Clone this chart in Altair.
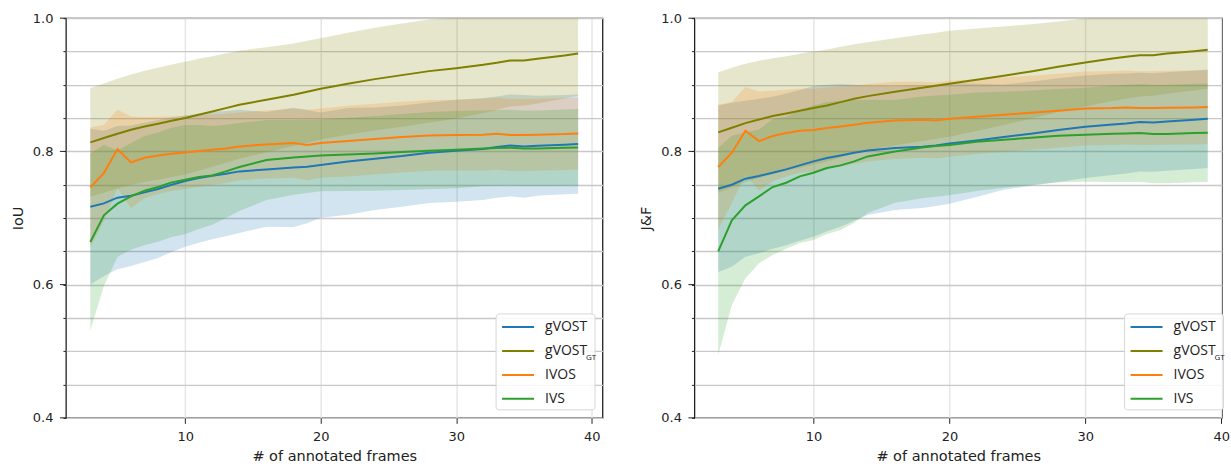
import altair as alt
import pandas as pd

frames = [3, 4, 5, 6, 7, 8, 9, 10, 11, 12, 13, 14, 16, 18, 19, 20, 22, 24, 26, 28, 30, 32, 33, 34, 35, 36, 38, 39]
methods = ["gVOST", "gVOST_GT", "IVOS", "IVS"]
colors = ["#1f77b4", "#808000", "#ff7f0e", "#2ca02c"]

# IoU panel
iou_gvost_mean = [.717, .722, .7305, .7335, .7385, .7435, .75, .7555, .76, .7635, .7665, .77, .773, .776, .777, .7795, .785, .789, .793, .798, .801, .8035, .8065, .809, .8075, .8085, .81, .811]
iou_gvost_std = [.117, .109, .1075, .1055, .1045, .1035, .101, .0985, .097, .0955, .094, .0925, .086, .0895, .085, .079, .08, .077, .076, .0755, .0765, .0765, .076, .0765, .077, .075, .0745, .0745]
iou_gt_mean = [.8135, .82, .8265, .8325, .8375, .8415, .846, .85, .855, .86, .865, .87, .8775, .885, .8895, .894, .9015, .9085, .9145, .9205, .925, .93, .933, .9365, .9365, .939, .944, .947]
iou_gt_std = [.0815, .082, .0825, .083, .0835, .084, .0845, .0845, .084, .083, .082, .081, .079, .077, .0765, .076, .0765, .077, .0775, .0775, .076, .0725, .071, .069, .068, .067, .0645, .0635]
iou_ivos_mean = [.746, .7675, .8035, .7835, .7905, .794, .7965, .7985, .8005, .8025, .8045, .8075, .8105, .8125, .8095, .8125, .8155, .8185, .8215, .824, .8245, .825, .8265, .8245, .8245, .825, .826, .827]
iou_ivos_std = [.09, .0725, .059, .069, .061, .058, .056, .055, .054, .053, .052, .051, .051, .052, .053, .052, .053, .053, .053, .053, .053, .054, .054, .054, .054, .054, .054, .054]
iou_ivs_mean = [.664, .704, .7215, .7325, .741, .7465, .7535, .7575, .7615, .764, .77, .7765, .787, .791, .7925, .794, .7955, .797, .799, .801, .8025, .8045, .805, .8055, .8045, .8045, .8055, .806]
iou_ivs_std = [.133, .106, .08, .08, .082, .082, .082, .082, .078, .074, .07, .066, .06, .056, .055, .054, .055, .056, .057, .058, .058, .057, .057, .057, .057, .057, .0575, .0575]

# J&F panel
jf_gvost_mean = [.744, .75, .759, .763, .768, .773, .779, .785, .79, .794, .798, .8015, .805, .807, .809, .812, .8165, .8215, .8265, .832, .837, .8405, .842, .844, .8435, .845, .8475, .849]
jf_gvost_std = [.125, .123, .117, .116, .114, .114, .113, .113, .11, .107, .102, .097, .093, .092, .091, .0905, .085, .079, .078, .078, .077, .076, .075, .074, .074, .074, .074, .074]
jf_gt_mean = [.8285, .8355, .8425, .848, .853, .857, .861, .865, .869, .874, .879, .883, .8895, .8955, .8985, .9015, .9075, .9135, .92, .927, .9335, .9395, .942, .9445, .9445, .947, .9505, .9525]
jf_gt_std = [.0905, .09, .089, .088, .087, .086, .0855, .085, .084, .083, .082, .081, .0805, .08, .0797, .0795, .077, .074, .071, .068, .066, .064, .063, .062, .061, .0605, .059, .0585]
jf_ivos_mean = [.7765, .798, .831, .8155, .823, .8275, .831, .832, .835, .8375, .84, .843, .8465, .8475, .8465, .849, .852, .855, .858, .861, .8645, .865, .866, .865, .865, .8655, .866, .8665]
jf_ivos_std = [.0935, .076, .0655, .0745, .068, .065, .063, .062, .061, .06, .059, .058, .058, .057, .057, .057, .056, .056, .0555, .0555, .0555, .0555, .0555, .0555, .0555, .0555, .0555, .0555]
jf_ivs_mean = [.65, .6965, .719, .7325, .7465, .753, .7625, .768, .775, .779, .785, .7925, .8, .806, .808, .8095, .8145, .8175, .8205, .8235, .825, .8265, .827, .8275, .826, .826, .8275, .828]
jf_ivs_std = [.1555, .127, .1095, .1005, .102, .099, .1, .101, .099, .097, .092, .085, .077, .0765, .076, .0755, .074, .072, .071, .07, .0705, .0725, .073, .0735, .074, .074, .074, .074]

y_tick_values = [0.4, 0.45, 0.5, 0.55, 0.6, 0.65, 0.7, 0.75, 0.8, 0.85, 0.9, 0.95, 1.0]
y_major_values = [0.4, 0.6, 0.8, 1.0]
x_tick_values = [10, 20, 30, 40]

color_of = dict(zip(methods, colors))


def long_table(means, stds):
    rows = []
    for name, m, s in zip(methods, means, stds):
        for f, mv, sv in zip(frames, m, s):
            rows.append({"frames": f, "method": name, "mean": mv, "lo": mv - sv, "hi": mv + sv})
    return pd.DataFrame(rows)


iou_df = long_table([iou_gvost_mean, iou_gt_mean, iou_ivos_mean, iou_ivs_mean],
                    [iou_gvost_std, iou_gt_std, iou_ivos_std, iou_ivs_std])
jf_df = long_table([jf_gvost_mean, jf_gt_mean, jf_ivos_mean, jf_ivs_mean],
                   [jf_gvost_std, jf_gt_std, jf_ivos_std, jf_ivs_std])

FONT = "DejaVu Sans"
LEG_FONT = "Open Sans"

# legend layout (pixels inside each plot area)
LEG_X, LEG_Y, LEG_PAD, SYM_LEN, LAB_OFF, ROW_H, ROW_PAD = 430.5, 296, 5, 32, 10, 16, 8
BOX_W, BOX_H = 99, 96


def panel(df, ytitle, x_domain, width):
    x_enc = alt.X("frames:Q",
                  scale=alt.Scale(domain=x_domain, nice=False, zero=False),
                  axis=alt.Axis(values=x_tick_values, tickSize=5.5, labelPadding=7,
                                gridColor="#e6e6e6", gridWidth=1.5, titlePadding=6,
                                labelFlush=False),
                  title="# of annotated frames")
    y_scale = alt.Scale(domain=[0.4, 1.0], nice=False, zero=False)
    y_axis = alt.Axis(values=y_tick_values, tickSize=3, labelPadding=10,
                      labelExpr="abs(datum.value*5 - round(datum.value*5)) < 0.001 ? format(datum.value, '.1f') : ''",
                      labelOverlap=False, gridColor="#c8c8c8", gridWidth=1.4,
                      titlePadding=7, labelFlush=False)

    # fill scale uses the data-derived (sorted) domain so it is not merged with the line legend
    bands = alt.Chart(df).mark_area(opacity=0.2, clip=True).encode(
        x=x_enc,
        y=alt.Y("lo:Q", scale=y_scale, axis=y_axis, title=ytitle, stack=None),
        y2="hi:Q",
        fill=alt.Fill("method:N", scale=alt.Scale(range=[color_of[m] for m in sorted(methods)]),
                      legend=None),
        detail="method:N",
    )
    lines = alt.Chart(df).mark_line(strokeWidth=2, clip=True).encode(
        x=x_enc,
        y=alt.Y("mean:Q", scale=y_scale, axis=y_axis, title=ytitle),
        color=alt.Color("method:N", scale=alt.Scale(domain=methods, range=colors),
                        legend=alt.Legend(
                            title=None, orient="none", legendX=LEG_X, legendY=LEG_Y,
                            symbolType="stroke", symbolSize=SYM_LEN * SYM_LEN, symbolStrokeWidth=2,
                            labelFont=LEG_FONT, labelFontSize=14, labelColor="#222",
                            labelOffset=LAB_OFF, padding=LEG_PAD, rowPadding=ROW_PAD,
                            clipHeight=ROW_H,
                            labelExpr="datum.label == 'gVOST_GT' ? 'gVOST' : datum.label",
                        )),
    )
    major_ticks = alt.Chart(pd.DataFrame({"v": y_major_values})).mark_rule(
        color="#222", strokeWidth=1).encode(
        y=alt.Y("v:Q", scale=y_scale, axis=y_axis, title=ytitle),
        x=alt.value(-6), x2=alt.value(0))
    # legend frame (white box behind the legend entries)
    frame = alt.Chart(pd.DataFrame({"k": [0]})).mark_rect(
        fill="white", fillOpacity=0.85, stroke="#d6d6d6", strokeWidth=1, cornerRadius=3).encode(
        x=alt.value(LEG_X), x2=alt.value(LEG_X + BOX_W),
        y=alt.value(LEG_Y), y2=alt.value(LEG_Y + BOX_H))
    sub_x = LEG_X + LEG_PAD + SYM_LEN + LAB_OFF + 43
    sub_y = LEG_Y + LEG_PAD + (ROW_H + ROW_PAD) + ROW_H / 2 + 7
    sub = alt.Chart(pd.DataFrame({"t": ["GT"]})).mark_text(
        font=LEG_FONT, fontSize=8, align="left", baseline="middle", color="#222").encode(
        text="t:N", x=alt.value(sub_x), y=alt.value(sub_y))
    return alt.layer(bands, lines, major_ticks, frame, sub).properties(width=width, height=400)


left = panel(iou_df, "IoU", [1.2, 40.8], 537)
right = panel(jf_df, "J&F", [1.25, 40.05], 528)

chart = alt.hconcat(left, right, spacing=34).resolve_scale(
    x="independent", color="independent", fill="independent"
).resolve_legend(color="independent").properties(
    padding={"left": 9, "top": 11, "right": 0, "bottom": 0},
    background="white",
).configure_view(stroke="#222", strokeWidth=1.3).configure_axis(
    labelFont=FONT, titleFont=FONT, labelFontSize=13, titleFontSize=14.5,
    labelColor="#222", titleColor="#222", titleFontWeight="normal",
    domain=False, tickColor="#222",
)

chart.save("out.html", embed_options={"renderer": "svg", "actions": False})
